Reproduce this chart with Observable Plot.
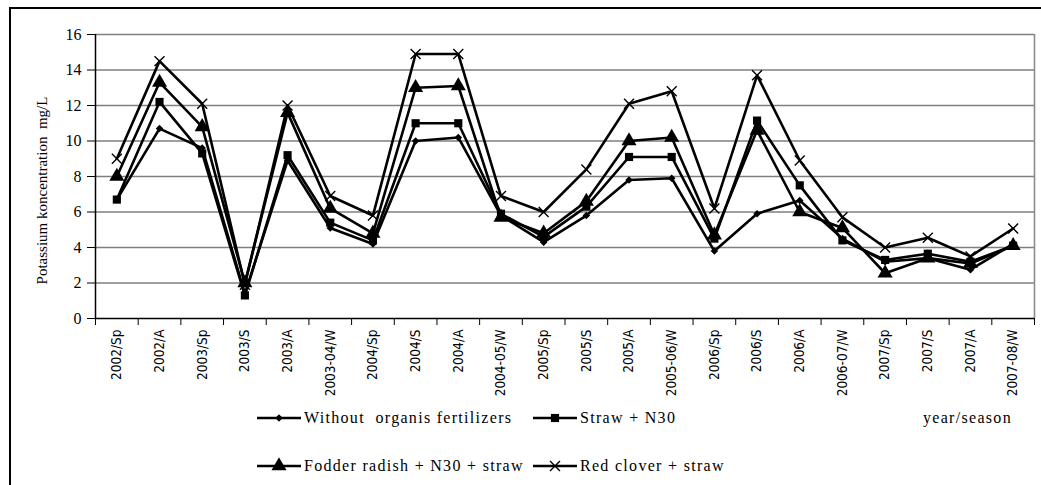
<!DOCTYPE html>
<html>
<head>
<meta charset="utf-8">
<script src="https://cdn.jsdelivr.net/npm/d3@7"></script>
<script src="https://cdn.jsdelivr.net/npm/@observablehq/plot@0.6"></script>
<style>
  html, body { margin: 0; padding: 0; background: #fff; }
  body { width: 1041px; height: 485px; position: relative; overflow: hidden; }
  #frame { position: absolute; left: 9px; top: 7px; width: 1100px; height: 520px; border: 2px solid #000; box-sizing: border-box; z-index: 5; pointer-events: none; }
  #chart { position: absolute; left: 0; top: 0; }
  #chart svg { overflow: hidden; }
  #chart g[aria-label="x-axis tick label"] { font-family: "DejaVu Sans Condensed", "Liberation Sans Narrow", sans-serif; }
  .leg { position: absolute; font-family: "Liberation Serif", "Times New Roman", serif; font-size: 16px; letter-spacing: 1.3px; color: #000; white-space: pre; display: flex; align-items: center; height: 20px; }
  .leg svg { margin-right: 3px; }
</style>
</head>
<body>
<div id="frame"></div>
<div id="chart"></div>
<div id="legend"></div>
<script>
const categories = ["2002/Sp","2002/A","2003/Sp","2003/S","2003/A","2003-04/W","2004/Sp","2004/S","2004/A","2004-05/W","2005/Sp","2005/S","2005/A","2005-06/W","2006/Sp","2006/S","2006/A","2006-07/W","2007/Sp","2007/S","2007/A","2007-08/W"];
const withoutOrganic = [6.7,10.7,9.6,1.4,8.9,5.1,4.2,10.0,10.2,5.8,4.3,5.8,7.8,7.9,3.8,5.9,6.65,4.5,3.2,3.4,2.75,4.2];
const strawN30     = [6.7,12.2,9.3,1.3,9.2,5.4,4.4,11.0,11.0,5.9,4.6,6.3,9.1,9.1,4.5,11.15,7.5,4.4,3.3,3.65,3.2,4.1];
const fodderRadish = [8.0,13.3,10.8,2.0,11.6,6.2,4.8,13.0,13.1,5.7,4.8,6.6,10.0,10.2,4.7,10.6,6.0,5.1,2.55,3.4,3.1,4.1];
const redClover    = [9.0,14.5,12.1,1.9,12.0,6.9,5.8,14.9,14.9,6.9,6.0,8.4,12.1,12.8,6.2,13.7,8.9,5.7,4.0,4.55,3.5,5.07];
const seriesNames = ["Without  organis fertilizers","Straw + N30","Fodder radish + N30 + straw","Red clover + straw"];
const seriesValues = [withoutOrganic, strawN30, fodderRadish, redClover];
const yTicks = [0,2,4,6,8,10,12,14,16];
const yLabel = "Potassium koncentration  mg/L";
const xLabel = "year/season";

const symbols = [
  {symbol: "diamond2", r: 3.4, fill: "black", stroke: "none"},
  {symbol: "square", r: 4.6, fill: "black", stroke: "none"},
  {symbol: "triangle", r: 5.6, fill: "black", stroke: "none"},
  {symbol: "times", r: 4.6, fill: "none", stroke: "black"}
];

const rows = seriesValues.flatMap((vals, s) => vals.map((v, i) => ({i, value: v, series: seriesNames[s], s})));

const serif = "'Liberation Serif', 'Times New Roman', serif";
const narrow = "'DejaVu Sans Condensed', 'Liberation Sans Narrow', sans-serif";

const plot = Plot.plot({
  width: 1041,
  height: 398,
  marginLeft: 95,
  marginRight: 7,
  marginTop: 34,
  marginBottom: 80,
  style: {fontFamily: serif, background: "white", overflow: "hidden"},
  x: {type: "linear", domain: [-0.5, 21.5], axis: null},
  y: {domain: [0, 16], axis: null},
  marks: [
    Plot.ruleY(yTicks.filter(d => d > 0), {stroke: "#7f7f7f", strokeWidth: 1.6}),
    Plot.ruleX([21.5], {stroke: "#8c8c8c", strokeWidth: 1.6}),
    Plot.axisY({ticks: yTicks, tickSize: 8, tickPadding: 6, fontSize: 16, fontFamily: serif, label: null}),
    Plot.text([yLabel], {frameAnchor: "left", textAnchor: "middle", lineAnchor: "middle", rotate: -90, dx: -53, dy: 14,
      fontSize: 15, fontFamily: serif, fill: "black"}),
    Plot.axisX({ticks: d3.range(23).map(k => k - 0.5), tickFormat: () => "", tickSize: 7, label: null}),
    Plot.axisX({ticks: d3.range(22), tickFormat: k => categories[k], tickSize: 0, tickPadding: 11,
      tickRotate: -90, fontSize: 13.5, fontFamily: narrow, label: null}),
    Plot.ruleY([0], {stroke: "black", strokeWidth: 1.5}),
    Plot.ruleX([-0.5], {stroke: "black", strokeWidth: 1.5}),
    Plot.line(rows, {x: "i", y: "value", z: "series", stroke: "black", strokeWidth: 2.6}),
    ...symbols.map((sy, s) => Plot.dot(rows.filter(d => d.s === s), {
      x: "i", y: "value", symbol: () => sy.symbol, r: sy.r,
      fill: sy.fill, stroke: sy.stroke, strokeWidth: 1.4
    }))
  ],
  symbol: {type: "identity"}
});
document.getElementById("chart").appendChild(plot);

// Legend (HTML below the SVG), markers drawn with d3 symbols
const legend = document.getElementById("legend");
const legPos = [[257, 408], [533, 408], [257, 456], [533, 456]];
const d3sym = {diamond2: d3.symbolDiamond2, square: d3.symbolSquare, triangle: d3.symbolTriangle, times: d3.symbolTimes};
seriesNames.forEach((name, s) => {
  const div = document.createElement("div");
  div.className = "leg";
  div.style.left = legPos[s][0] + "px";
  div.style.top = legPos[s][1] + "px";
  const sy = symbols[s];
  const size = Math.PI * sy.r * sy.r;
  const svg = d3.create("svg").attr("width", 44).attr("height", 20);
  svg.append("line").attr("x1", 0).attr("x2", 44).attr("y1", 10).attr("y2", 10).attr("stroke", "black").attr("stroke-width", 2.6);
  svg.append("path").attr("transform", "translate(22,10)")
    .attr("d", d3.symbol(d3sym[sy.symbol], size)())
    .attr("fill", sy.fill).attr("stroke", sy.stroke).attr("stroke-width", 1.4);
  div.appendChild(svg.node());
  div.appendChild(document.createTextNode(name));
  legend.appendChild(div);
});
const xl = document.createElement("div");
xl.className = "leg";
xl.style.left = "923px";
xl.style.top = "408px";
xl.textContent = xLabel;
legend.appendChild(xl);
</script>
</body>
</html>
